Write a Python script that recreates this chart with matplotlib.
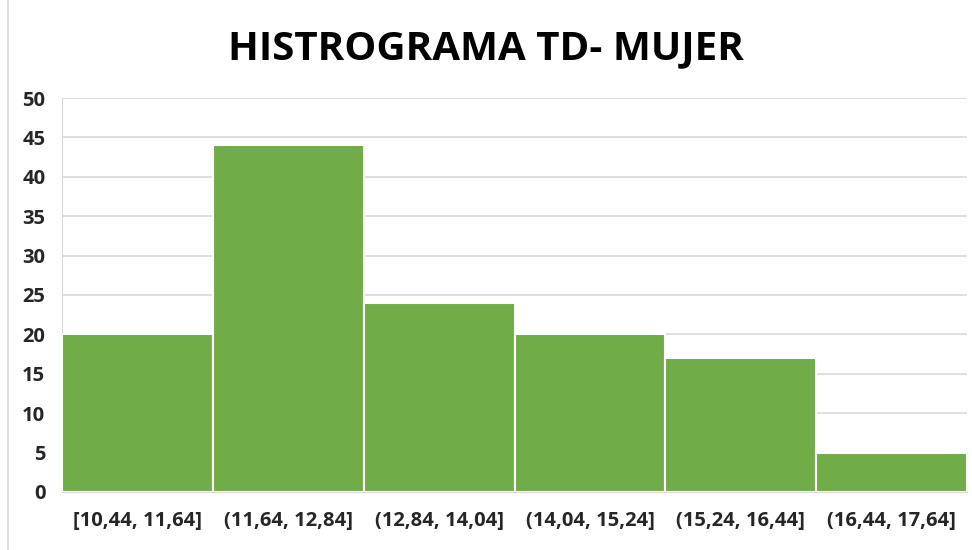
import matplotlib.pyplot as plt
from matplotlib.lines import Line2D

# Datos del histograma
intervalos = ["[10,44, 11,64]", "(11,64, 12,84]", "(12,84, 14,04]",
              "(14,04, 15,24]", "(15,24, 16,44]", "(16,44, 17,64]"]
frecuencias = [20, 44, 24, 20, 17, 5]
yticks = [0, 5, 10, 15, 20, 25, 30, 35, 40, 45, 50]

plt.rcParams['font.family'] = ['Open Sans', 'DejaVu Sans']

fig = plt.figure(figsize=(9.72, 5.5), dpi=100)
ax = fig.add_axes([0.0638, 0.1055, 0.9312, 0.7163])

pos = range(len(frecuencias))
ax.bar([p + 0.5 for p in pos], frecuencias, width=1.0, color='#70AD47',
       edgecolor='white', linewidth=1.5, zorder=3)

ax.set_xlim(0, len(frecuencias))
ax.set_ylim(0, 50)
ax.set_yticks(yticks)
ax.set_xticks([p + 0.5 for p in pos])
ax.set_xticklabels(intervalos)
ax.tick_params(axis='both', length=0, labelsize=14.5, labelcolor='#262626')
ax.tick_params(axis='x', pad=14)
ax.tick_params(axis='y', pad=12)
for lbl in ax.get_xticklabels() + ax.get_yticklabels():
    lbl.set_fontweight('bold')
ax.grid(axis='y', color='#d9d9d9', linewidth=1.2, zorder=0)

for s in ['top', 'right']:
    ax.spines[s].set_visible(False)
ax.spines['left'].set_color('#d9d9d9')
ax.spines['bottom'].set_color('#d9d9d9')

fig.text(0.5, 0.911, "HISTROGRAMA TD- MUJER", ha='center', va='center',
         fontsize=29, fontweight='bold', color='black')

# borde del área del gráfico
fig.add_artist(Line2D([0.0085, 0.0085], [0, 1], color='#d9d9d9', linewidth=1.2,
                      transform=fig.transFigure))

fig.savefig("out.png", dpi=100)
